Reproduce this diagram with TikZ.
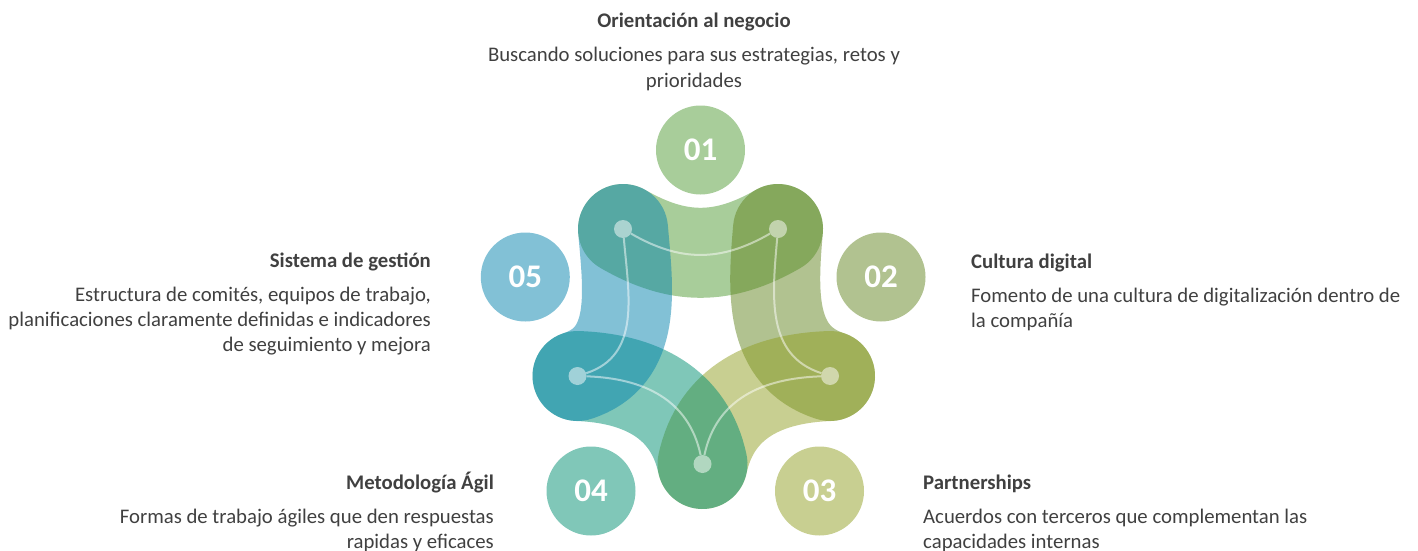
\documentclass[tikz,border=0pt]{standalone}
\usepackage{fontspec}
\setmainfont{Carlito}
\definecolor{d1}{RGB}{81,155,53}
\definecolor{d2}{RGB}{99,133,33}
\definecolor{d3}{RGB}{145,159,35}
\definecolor{d4}{RGB}{0,143,113}
\definecolor{d5}{RGB}{5,131,173}
\colorlet{c1}{d1!50!white}
\colorlet{c2}{d2!50!white}
\colorlet{c3}{d3!50!white}
\colorlet{c4}{d4!50!white}
\colorlet{c5}{d5!50!white}
\definecolor{txtgray}{RGB}{64,64,64}
\begin{document}
\begin{tikzpicture}[x=1pt,y=1pt,
  band/.style={line width=90pt, line cap=round, opacity=0.5},
  thinline/.style={draw=white, line width=2pt, opacity=0.5},
  dot/.style={circle, fill=white, fill opacity=0.5, minimum size=18pt, inner sep=0pt},
  num/.style={circle, minimum size=89pt, inner sep=0pt, text=white, font=\fontsize{33}{33}\selectfont\bfseries},
  lbl/.style={inner sep=0pt, text=txtgray, font=\fontsize{20.75}{25}\selectfont},
  e12/.style={out=-30, in=-150, looseness=1.05},
  e23/.style={out=-95, in=162, looseness=1.05},
  e34/.style={out=182, in=78, looseness=1.05},
  e45/.style={out=102, in=-2, looseness=1.05},
  e51/.style={out=18, in=-85, looseness=1.05}
]
\useasboundingbox (0,0) rectangle (1418,-551);
\coordinate (A1) at (623,-229);
\coordinate (A2) at (778,-229);
\coordinate (A3) at (830,-376);
\coordinate (A4) at (702.5,-464);
\coordinate (A5) at (577.5,-376);
% bands
\draw[band, draw=d1] (A1) to[e12] (A2);
\draw[band, draw=d2] (A2) to[e23] (A3);
\draw[band, draw=d3] (A3) to[e34] (A4);
\draw[band, draw=d4] (A4) to[e45] (A5);
\draw[band, draw=d5] (A5) to[e51] (A1);
% dots
\node[dot] (p1) at (A1) {};
\node[dot] (p2) at (A2) {};
\node[dot] (p3) at (A3) {};
\node[dot] (p4) at (A4) {};
\node[dot] (p5) at (A5) {};
% thin lines
\draw[thinline] (p1) to[e12] (p2);
\draw[thinline] (p2) to[e23] (p3);
\draw[thinline] (p3) to[e34] (p4);
\draw[thinline] (p4) to[e45] (p5);
\draw[thinline] (p5) to[e51] (p1);
% number circles
\node[num, fill=c1] (n1) at (700.5,-150) {01};
\node[num, fill=c2] (n2) at (881,-277) {02};
\node[num, fill=c3] (n3) at (819.5,-491) {03};
\node[num, fill=c4] (n4) at (591,-491) {04};
\node[num, fill=c5] (n5) at (525.3,-277) {05};
% labels (anchor base = baseline of last line)
\node[lbl, align=center, anchor=base] (t1) at (694,-87)
  {\textbf{Orientación al negocio}\\[9.5pt]Buscando soluciones para sus estrategias, retos y\\prioridades};
\node[lbl, align=left, anchor=base west] (t2) at (971,-327)
  {\textbf{Cultura digital}\\[9pt]Fomento de una cultura de digitalización dentro de\\la compañía};
\node[lbl, align=left, anchor=base west] (t3) at (923,-548)
  {\textbf{Partnerships}\\[9pt]Acuerdos con terceros que complementan las\\capacidades internas};
\node[lbl, align=right, anchor=base east] (t4) at (494,-548)
  {\textbf{Metodología Ágil}\\[9pt]Formas de trabajo ágiles que den respuestas\\rapidas y eficaces};
\node[lbl, align=right, anchor=base east] (t5) at (431,-351)
  {\textbf{Sistema de gestión}\\[9pt]Estructura de comités, equipos de trabajo,\\planificaciones claramente definidas e indicadores\\de seguimiento y mejora};
\end{tikzpicture}
\end{document}
